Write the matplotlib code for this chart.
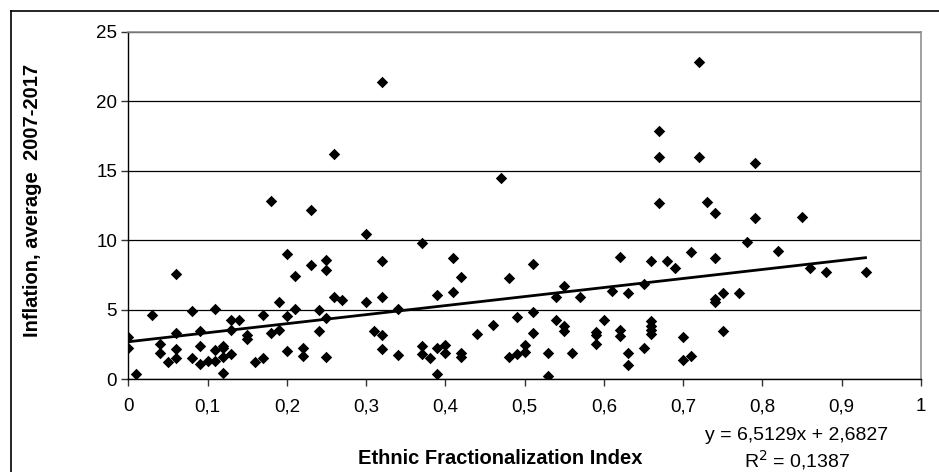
import numpy as np
import matplotlib
matplotlib.use("Agg")
import matplotlib.pyplot as plt
from matplotlib.ticker import FuncFormatter
from matplotlib.lines import Line2D

plt.rcParams["font.family"] = ["Liberation Sans", "DejaVu Sans"]

# ethnic fractionalization index vs average inflation 2007-2017
efi = [
    0.00, 0.00, 0.01, 0.03, 0.04, 0.04, 0.05, 0.06, 0.06, 0.06, 0.06, 0.08, 0.08,
    0.09, 0.09, 0.09, 0.10, 0.11, 0.11, 0.11, 0.12, 0.12, 0.12, 0.12, 0.13, 0.13,
    0.13, 0.14, 0.15, 0.15, 0.16, 0.17, 0.17, 0.18, 0.19, 0.19, 0.20, 0.20, 0.20,
    0.21, 0.21, 0.22, 0.22, 0.23, 0.24, 0.24, 0.25, 0.25, 0.25, 0.25, 0.26, 0.27,
    0.30, 0.30, 0.31, 0.32, 0.32, 0.32, 0.32, 0.34, 0.34,
    0.18, 0.23, 0.26, 0.32, 0.47,
    0.37, 0.37, 0.37, 0.38, 0.39, 0.39, 0.39, 0.40, 0.40, 0.41, 0.41, 0.42, 0.42,
    0.42, 0.44, 0.46, 0.48, 0.48, 0.49, 0.49, 0.50, 0.50, 0.51, 0.51, 0.51, 0.53,
    0.53, 0.54, 0.54, 0.55, 0.55, 0.55, 0.56, 0.57, 0.59, 0.59, 0.59, 0.60, 0.61,
    0.62, 0.62, 0.62, 0.63, 0.63, 0.63, 0.65, 0.65, 0.66, 0.66, 0.66, 0.66, 0.66,
    0.68, 0.69, 0.70, 0.70, 0.71, 0.71,
    0.74, 0.78, 0.82, 0.86, 0.88, 0.93, 0.74, 0.74, 0.75, 0.77, 0.75,
    0.72, 0.67, 0.67, 0.72, 0.79, 0.67, 0.73, 0.74, 0.79, 0.85,
]
inflation = [
    2.99, 2.25, 0.36, 4.64, 2.51, 1.89, 1.20, 7.58, 3.28, 2.18, 1.48, 4.90, 1.48,
    3.47, 2.37, 1.05, 1.32, 5.07, 2.08, 1.32, 2.37, 2.20, 1.55, 0.45, 4.23, 3.52,
    1.79, 4.23, 3.20, 2.85, 1.24, 4.59, 1.48, 3.33, 5.55, 3.52, 9.00, 4.55, 2.03,
    7.42, 5.07, 2.25, 1.65, 8.23, 4.95, 3.47, 8.59, 7.87, 4.43, 1.60, 5.90, 5.67,
    10.45, 5.55, 3.47, 8.47, 5.90, 3.16, 2.13, 1.72, 5.02,
    12.82, 12.15, 16.19, 21.42, 14.46,
    9.82, 2.38, 1.80, 1.49, 6.03, 2.26, 0.36, 2.45, 1.90, 8.69, 6.27, 7.37, 1.85,
    1.56, 3.24, 3.89, 7.28, 1.56, 4.49, 1.78, 2.45, 1.97, 8.26, 4.80, 3.34, 1.90,
    0.24, 5.93, 4.25, 6.72, 3.82, 3.46, 1.90, 5.90, 3.41, 3.17, 2.52, 4.25, 6.36,
    8.81, 3.53, 3.12, 6.17, 1.90, 1.00, 6.82, 2.26, 8.50, 4.15, 3.80, 3.50, 3.25,
    8.50, 8.02, 3.05, 1.37, 9.13, 1.68,
    8.69, 9.85, 9.25, 8.02, 7.68, 7.68, 5.74, 5.57, 6.17, 6.17, 3.48,
    22.86, 17.87, 15.97, 15.97, 15.59, 12.66, 12.78, 11.98, 11.58, 11.70,
]

# linear trendline as reported on the chart
slope = 6.5129
intercept = 2.6827
r_squared = 0.1387

W, H = 939, 472
fig = plt.figure(figsize=(W / 100, H / 100), dpi=100)
ax = fig.add_axes([128.3 / W, 93 / H, (921 - 128.3) / W, (379 - 32) / H])

ax.scatter(efi, inflation, marker="D", s=34, color="black", linewidths=0, zorder=3)

xs = np.array([0, max(efi)])
ax.plot(xs, slope * xs + intercept, color="black", lw=2, zorder=4)

ax.set_xlim(0, 1)
ax.set_ylim(0, 25)
ax.set_xticks(np.arange(0, 1.01, 0.1))
ax.set_yticks(np.arange(0, 26, 5))
comma = FuncFormatter(lambda v, p: ("%g" % round(v, 2)).replace(".", ","))
ax.xaxis.set_major_formatter(comma)

ax.grid(axis="y", color="black", lw=0.9)
ax.set_axisbelow(True)
for side in ["top", "right"]:
    ax.spines[side].set_color("#909090")
    ax.spines[side].set_linewidth(1.2)
for side in ["left", "bottom"]:
    ax.spines[side].set_color("black")
    ax.spines[side].set_linewidth(1)

ax.tick_params(axis="both", direction="out", length=5, width=1, color="#333333",
               labelsize=13.5, labelcolor="black")
ax.tick_params(axis="x", pad=9)
ax.tick_params(axis="y", pad=3)

fig.text(33 / W, 1 - 200 / H, "Inflation, average  2007-2017", rotation=90,
         ha="center", va="center", fontsize=14.5, fontweight="bold")
fig.text(500 / W, 1 - 459 / H, "Ethnic Fractionalization Index",
         ha="center", va="center", fontsize=14.5, fontweight="bold")
fig.text(797 / W, 1 - 435 / H,
         "y = %sx + %s" % (str(slope).replace(".", ","), str(intercept).replace(".", ",")),
         ha="center", va="center", fontsize=14)
fig.text(797 / W, 1 - 460 / H, "R$^2$ = %s" % str(r_squared).replace(".", ","),
         ha="center", va="center", fontsize=14)

# outer chart frame (left and top edges visible)
fig.add_artist(Line2D([10.5 / W, 10.5 / W], [0, 1 - 10.5 / H], color="black", lw=1.2,
                      transform=fig.transFigure))
fig.add_artist(Line2D([10.5 / W, 1], [1 - 10.5 / H, 1 - 10.5 / H], color="black", lw=1.2,
                      transform=fig.transFigure))

fig.savefig("out.png", dpi=100)
